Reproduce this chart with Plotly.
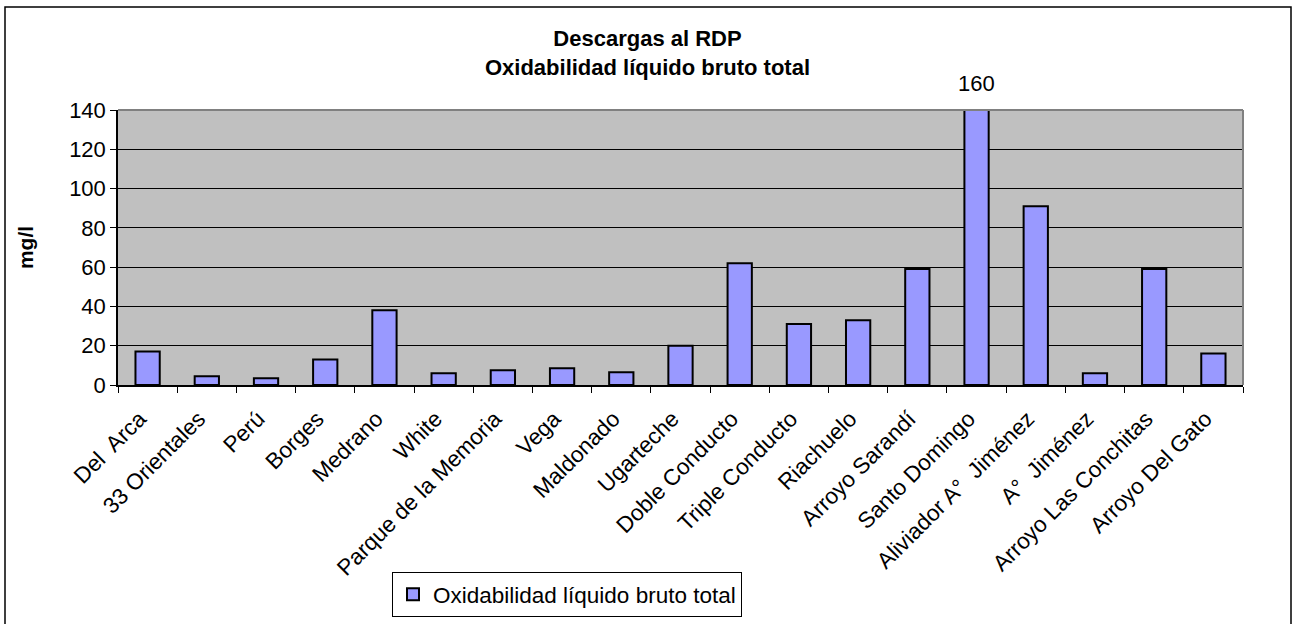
import plotly.graph_objects as go

categories = ["Del  Arca", "33 Orientales", "Perú", "Borges", "Medrano", "White",
              "Parque de la Memoria", "Vega", "Maldonado", "Ugarteche", "Doble Conducto",
              "Triple Conducto", "Riachuelo", "Arroyo Sarandí", "Santo Domingo",
              "Aliviador A°  Jiménez", "A°  Jiménez", "Arroyo Las Conchitas", "Arroyo Del Gato"]
values = [17, 4.5, 3.5, 13, 38, 6, 7.5, 8.5, 6.5, 20, 62, 31, 33, 59, 160, 91, 6, 59, 16]
y_ticks = [0, 20, 40, 60, 80, 100, 120, 140]
series_name = "Oxidabilidad líquido bruto total"
title_lines = ["Descargas al RDP", "Oxidabilidad líquido bruto total"]
y_title = "mg/l"

FONT = "Liberation Sans, Arial, sans-serif"
ymax = max(y_ticks)

fig = go.Figure()
fig.add_trace(go.Bar(
    x=categories, y=values, name=series_name,
    marker=dict(color="#9999ff", line=dict(color="black", width=2)),
    cliponaxis=True,
))

# label for values exceeding the axis range
for c, v in zip(categories, values):
    if v > ymax:
        fig.add_annotation(x=c, y=1, xref="x", yref="paper", yanchor="bottom",
                           text=f"{v:g}", showarrow=False, yshift=12,
                           font=dict(family=FONT, size=22, color="black"))

L, R, T, B = 118, 52, 110, 239
W, H = 1295, 624
pw, ph = W - L - R, H - T - B

def px(x):
    return (x - L) / pw

def py(y):
    return (H - B - y) / ph

# outer frame
fig.add_shape(type="rect", xref="paper", yref="paper",
              x0=px(5), x1=px(1291), y0=py(640), y1=py(7),
              line=dict(color="black", width=1.5), layer="below")
# top and right plot border
fig.add_shape(type="line", xref="paper", yref="paper", x0=0, x1=1, y0=1, y1=1,
              line=dict(color="#808080", width=2), layer="above")
fig.add_shape(type="line", xref="paper", yref="paper", x0=1, x1=1, y0=0, y1=1,
              line=dict(color="#808080", width=2), layer="above")

fig.update_layout(
    width=W, height=H,
    margin=dict(l=L, r=R, t=T, b=B, autoexpand=False),
    paper_bgcolor="white", plot_bgcolor="#c0c0c0",
    font=dict(family=FONT, size=22, color="black"),
    title=dict(text="<b>" + "<br>".join(title_lines) + "</b>", x=0.5, xanchor="center",
               y=1 - 46 / H, yanchor="top", font=dict(family=FONT, size=22, color="black")),
    bargap=0.59,
    showlegend=True,
    legend=dict(orientation="h", x=px(392), xanchor="left", y=py(572), yanchor="top",
                bordercolor="black", borderwidth=1, bgcolor="white",
                font=dict(family=FONT, size=22.5, color="black"),
                itemsizing="constant", itemwidth=30, tracegroupgap=0),
)
fig.update_xaxes(
    automargin=False,
    tickangle=-45, tickfont=dict(family=FONT, size=22.5, color="black"),
    ticklabelstandoff=10, ticklabelshift=-8,
    showline=True, linecolor="black", linewidth=1.5,
    ticks="outside", ticklen=6, tickcolor="black", tickson="boundaries",
    showgrid=False,
)
fig.update_yaxes(
    automargin=False,
    range=[0, ymax], tickvals=y_ticks, tickfont=dict(family=FONT, size=22, color="black"),
    showline=True, linecolor="black", linewidth=1.5,
    ticks="outside", ticklen=6, tickcolor="black",
    showgrid=True, gridcolor="black", gridwidth=1, zeroline=False,
    title=dict(text="<b>" + y_title + "</b>", font=dict(family=FONT, size=21, color="black"),
               standoff=30),
)

fig.write_html("out.html", config={"displayModeBar": False},
               post_script="document.body.style.margin='0';")
